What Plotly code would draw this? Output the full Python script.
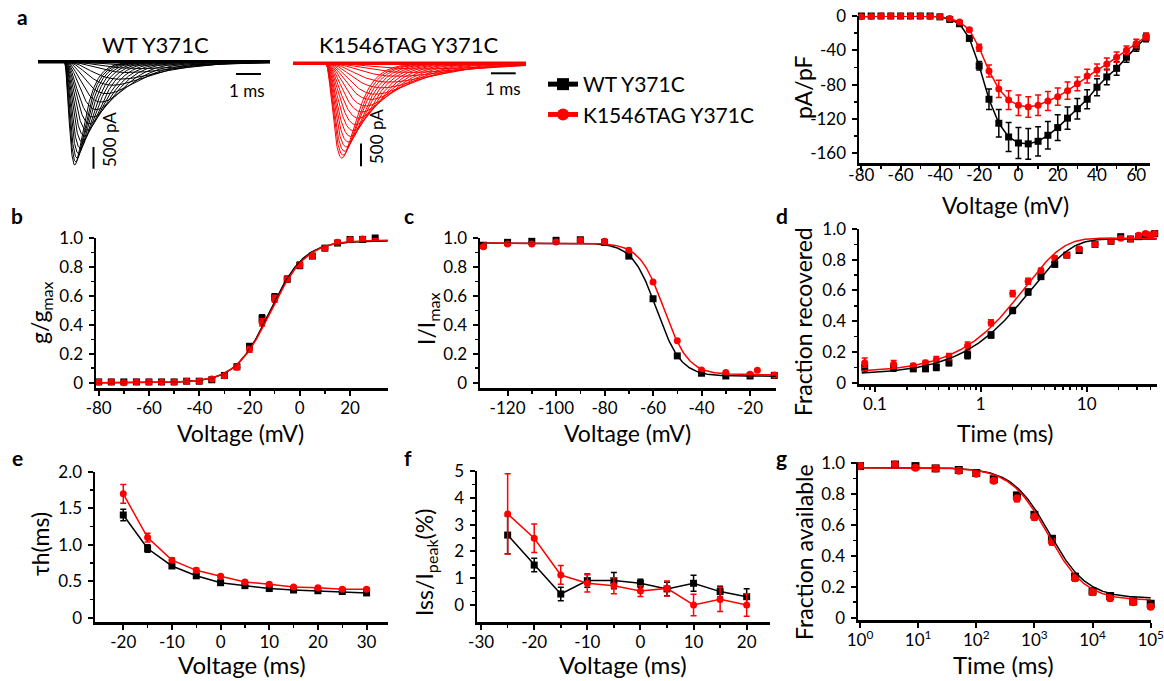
import numpy as np
import plotly.graph_objects as go

W, H = 1164, 681
FONT = "Lato"
BLACK = "#000000"
RED = "#ff0000"

# ---------------- DATA ----------------
# panel a: current traces (peak amplitude pA, time-to-peak ms, inactivation tau ms)
wt_trace_peak = [2380, 2310, 2222, 2116, 1993, 1853, 1717, 1578, 1426, 1275, 1105, 931, 736, 543, 404, 250, 160, 90]
wt_trace_tpeak = [0.43, 0.47, 0.52, 0.58, 0.65, 0.73, 0.82, 0.92, 1.03, 1.15, 1.30, 1.48, 1.70, 1.95, 2.25, 2.60, 3.00, 3.50]
wt_trace_tauh = [0.40, 0.42, 0.44, 0.46, 0.49, 0.52, 0.55, 0.59, 0.63, 0.67, 0.72, 0.78, 0.85, 0.93, 1.02, 1.12, 1.25, 1.40]
mut_trace_peak = [2090, 2021, 1939, 1843, 1734, 1611, 1483, 1352, 1210, 1073, 940, 797, 681, 542, 415, 289, 203, 125]
mut_trace_tpeak = [0.68, 0.73, 0.79, 0.86, 0.94, 1.03, 1.13, 1.24, 1.36, 1.50, 1.66, 1.84, 2.05, 2.30, 2.60, 2.95, 3.40, 3.90]
mut_trace_tauh = [0.55, 0.58, 0.61, 0.65, 0.69, 0.73, 0.78, 0.83, 0.89, 0.95, 1.02, 1.10, 1.19, 1.29, 1.40, 1.52, 1.66, 1.82]
scale_time_ms = 1.0
scale_current_pA = 500.0

# IV
iv_v = [-80, -75, -70, -65, -60, -55, -50, -45, -40, -35, -30, -25, -20, -15, -10, -5,
        0, 5, 10, 15, 20, 25, 30, 35, 40, 45, 50, 55, 60, 65]
iv_wt = [0, 0, 0, 0, 0, 0, 0, 0, -1, -4, -9, -26, -58, -97, -125, -141,
         -148, -149, -146, -139, -130, -119, -108, -97, -83, -71, -61, -48, -36, -25]
iv_wt_err = [0, 0, 0, 0, 0, 0, 0, 0.5, 0.5, 1, 2, 3, 5, 12, 16, 17,
             18, 18, 17, 16, 15, 13, 12, 11, 10, 9, 8, 6, 5, 5]
iv_mut = [-1, -0.5, 0, 0, 0, 0, 0, -0.5, -1, -3, -7, -16, -37, -64, -85, -98,
          -104, -106, -104, -99, -94, -87, -79, -70, -63, -56, -48, -40, -32, -24]
iv_mut_err = [0.5, 0.5, 0, 0, 0, 0, 0, 0.5, 0.5, 1, 1.5, 2, 4, 7, 10, 11,
              12, 12, 12, 11, 10, 10, 8, 8, 7, 7, 6, 5, 5, 4]

# b: activation
act_v = [-80, -75, -70, -65, -60, -55, -50, -45, -40, -35, -30, -25, -20, -15, -10, -5, 0, 5, 10, 15, 20, 25, 30, 35]
act_wt = [0.005, 0.005, 0.005, 0.005, 0.005, 0.005, 0.005, 0.01, 0.01, 0.02, 0.05, 0.11, 0.25, 0.445, 0.59, 0.715,
          0.81, 0.875, 0.93, 0.965, 0.99, 0.99, 1.0, 1.02]
act_wt_err = [0.005] * 10 + [0.01, 0.015, 0.02, 0.025, 0.025, 0.02, 0.02, 0.015, 0.01, 0.01, 0.01, 0.01, 0.01, 0.01]
act_mut = [0.005, 0.005, 0.0, 0.005, 0.005, 0.005, 0.005, 0.01, 0.01, 0.025, 0.048, 0.106, 0.23, 0.416, 0.58, 0.716,
           0.815, 0.877, 0.93, 0.97, 0.988, 0.993, 1.005, 1.023]
act_mut_err = [0.005] * 10 + [0.01, 0.015, 0.02, 0.025, 0.025, 0.02, 0.02, 0.015, 0.01, 0.01, 0.01, 0.01, 0.01, 0.01]
act_fit_wt = dict(top=0.98, vhalf=-12.0, k=6.8)
act_fit_mut = dict(top=0.985, vhalf=-11.5, k=7.0)

# c: steady-state inactivation
inact_v_wt = [-130, -120, -110, -100, -90, -80, -70, -60, -50, -40, -30, -20, -10]
inact_wt = [0.95, 0.97, 0.977, 0.984, 0.988, 0.97, 0.875, 0.58, 0.185, 0.065, 0.046, 0.046, 0.05]
inact_v_mut = [-130, -120, -110, -100, -90, -80, -70, -60, -50, -40, -30, -20, -17, -10]
inact_mut = [0.94, 0.958, 0.958, 0.972, 0.984, 0.977, 0.915, 0.695, 0.29, 0.088, 0.07, 0.058, 0.085, 0.053]
inact_fit_wt = dict(top=0.965, bottom=0.045, vhalf=-58.5, k=5.0)
inact_fit_mut = dict(top=0.965, bottom=0.055, vhalf=-55.5, k=5.0)

# d: recovery from inactivation
rec_t = [0.08, 0.15, 0.23, 0.3, 0.38, 0.5, 0.75, 1.25, 2.0, 2.8, 3.7, 5.0, 6.5, 8.5, 12, 17, 21, 26, 31, 36, 40, 44]
rec_wt = [0.10, 0.10, 0.09, 0.09, 0.10, 0.13, 0.18, 0.31, 0.47, 0.59, 0.69, 0.77, 0.83, 0.86, 0.90, 0.92, 0.95, 0.935, 0.95, 0.96, 0.96, 0.97]
rec_mut = [0.13, 0.12, 0.11, 0.13, 0.15, 0.17, 0.24, 0.39, 0.58, 0.66, 0.73, 0.81, 0.83, 0.87, 0.90, 0.92, 0.94, 0.935, 0.96, 0.97, 0.96, 0.97]
rec_err = [0.03, 0.025, 0.015, 0.015, 0.02, 0.02, 0.025, 0.02, 0.02, 0.02, 0.015, 0.015, 0.01, 0.015, 0.01, 0.01, 0.01, 0.01, 0.01, 0.01, 0.01, 0.01]
rec_fit_wt = dict(y0=0.05, top=0.935, tau=3.0, beta=1.15)
rec_fit_mut = dict(y0=0.065, top=0.94, tau=2.6, beta=1.2)

# e: tau h
tau_v = [-20, -15, -10, -5, 0, 5, 10, 15, 20, 25, 30]
tau_wt = [1.41, 0.95, 0.71, 0.575, 0.48, 0.44, 0.40, 0.38, 0.37, 0.36, 0.34]
tau_wt_err = [0.08, 0.05, 0.03, 0.02, 0.02, 0.02, 0.02, 0.02, 0.02, 0.02, 0.02]
tau_mut = [1.70, 1.10, 0.79, 0.65, 0.57, 0.49, 0.46, 0.42, 0.41, 0.39, 0.39]
tau_mut_err = [0.13, 0.06, 0.03, 0.03, 0.02, 0.02, 0.02, 0.02, 0.02, 0.02, 0.02]

# f: persistent current
iss_v = [-25, -20, -15, -10, -5, 0, 5, 10, 15, 20]
iss_wt = [2.61, 1.49, 0.41, 0.91, 0.91, 0.81, 0.60, 0.81, 0.50, 0.31]
iss_wt_err = [0.7, 0.25, 0.25, 0.25, 0.3, 0.15, 0.25, 0.3, 0.2, 0.3]
iss_mut = [3.40, 2.49, 1.12, 0.81, 0.72, 0.52, 0.62, 0.0, 0.21, 0.0]
iss_mut_err = [1.5, 0.53, 0.35, 0.32, 0.3, 0.2, 0.28, 0.4, 0.45, 0.42]

# g: development of slow inactivation
slow_t = [1, 4, 9, 20, 50, 100, 200, 500, 1000, 2000, 5000, 10000, 20000, 50000, 100000]
slow_wt = [0.98, 0.99, 0.98, 0.965, 0.955, 0.935, 0.895, 0.79, 0.665, 0.51, 0.265, 0.17, 0.14, 0.105, 0.09]
slow_mut = [0.98, 0.99, 0.97, 0.965, 0.95, 0.93, 0.885, 0.77, 0.65, 0.49, 0.255, 0.165, 0.125, 0.10, 0.07]
slow_err = [0.01, 0.01, 0.01, 0.01, 0.01, 0.01, 0.015, 0.02, 0.02, 0.02, 0.02, 0.02, 0.015, 0.015, 0.015]
slow_fit_wt = dict(top=0.97, bottom=0.125, t50=1800.0, n=1.35)
slow_fit_mut = dict(top=0.97, bottom=0.112, t50=1700.0, n=1.35)

# tick values / labels
iv_xticks = [-80, -60, -40, -20, 0, 20, 40, 60]
iv_yticks = [0, -40, -80, -120, -160]
act_xticks = [-80, -60, -40, -20, 0, 20]
frac_yticks = [0, 0.2, 0.4, 0.6, 0.8, 1.0]
frac_ylabels = ["0", "0.2", "0.4", "0.6", "0.8", "1.0"]
inact_xticks = [-120, -100, -80, -60, -40, -20]
rec_xticks = [0.1, 1, 10]
rec_xlabels = ["0.1", "1", "10"]
tau_xticks = [-20, -10, 0, 10, 20, 30]
tau_yticks = [0, 0.5, 1.0, 1.5, 2.0]
tau_ylabels = ["0", "0.5", "1.0", "1.5", "2.0"]
iss_xticks = [-30, -20, -10, 0, 10, 20]
iss_yticks = [0, 1, 2, 3, 4, 5]
slow_xticks = [1, 10, 100, 1000, 10000, 100000]
slow_xlabels = ["10<sup>0</sup>", "10<sup>1</sup>", "10<sup>2</sup>", "10<sup>3</sup>", "10<sup>4</sup>", "10<sup>5</sup>"]

# ---------------- helpers ----------------
def xdom(a, b):
    return [a / W, b / W]


def ydom(top, bot):
    return [1 - bot / H, 1 - top / H]


def lbl(vals):
    return [str(v) for v in vals]


def mids(vals):
    v = sorted(vals)
    return [(v[i] + v[i + 1]) / 2 for i in range(len(v) - 1)]


def log_minor(lo, hi):
    out = []
    e = int(np.floor(np.log10(lo)))
    while 10 ** e <= hi:
        for m in range(2, 10):
            val = m * 10 ** e
            if lo <= val <= hi:
                out.append(val)
        e += 1
    return out


def axis(dom, rng, anchor, tickvals, ticktext, minor=None, typ="linear", standoff=-2):
    d = dict(domain=dom, range=rng, anchor=anchor, type=typ, showline=True,
             linecolor=BLACK, linewidth=2.5, ticks="outside", ticklen=5, tickwidth=2,
             tickcolor=BLACK, showgrid=False, zeroline=False, tickmode="array",
             tickvals=tickvals, ticktext=ticktext,
             ticklabelstandoff=standoff, ticklabeloverflow="allow",
             tickfont=dict(family=FONT, size=17, color=BLACK), fixedrange=True)
    if minor is not None:
        d["minor"] = dict(tickmode="array", tickvals=minor, ticks="outside", ticklen=3,
                          tickwidth=1.5, tickcolor=BLACK, showgrid=False)
    return d


def yaxis(dom, rng, anchor, tickvals, ticktext, minor=None):
    return axis(dom, rng, anchor, tickvals, ticktext, minor, standoff=2)


def hidden(dom, rng, anchor):
    return dict(domain=dom, range=rng, anchor=anchor, visible=False, fixedrange=True)


fig = go.Figure()


def err(arr, color):
    return dict(type="data", array=arr, visible=True, thickness=1.5, width=3, color=color)


def pts(x, y, e, color, symbol, xa, ya, mode="markers", name=None, legend=False, size=7):
    fig.add_trace(go.Scatter(
        x=x, y=y, mode=mode, name=name, showlegend=legend, xaxis=xa, yaxis=ya,
        line=dict(color=color, width=1.5),
        marker=dict(color=color, symbol=symbol, size=size, line=dict(width=0)),
        error_y=err(e, color) if e is not None else None, cliponaxis=False))


def curve(x, y, color, xa, ya, width=1.5):
    fig.add_trace(go.Scatter(x=x, y=y, mode="lines", showlegend=False, xaxis=xa, yaxis=ya,
                             line=dict(color=color, width=width), cliponaxis=False,
                             hoverinfo="skip"))


# ---------------- panel a traces ----------------
def solve_tau_m(tp, th):
    lo, hi = 1e-4, 100.0
    for _ in range(90):
        mid = 0.5 * (lo + hi)
        if mid * np.log(1 + 3 * th / mid) < tp:
            lo = mid
        else:
            hi = mid
    return 0.5 * (lo + hi)


def draw_family(peaks, tps, taus, color, xa, ya, trng):
    t = np.linspace(trng[0], trng[1], 1200)
    for A, tp, th in zip(peaks, tps, taus):
        tm = solve_tau_m(tp, th)
        tt = np.clip(t, 0, None)
        s = (1 - np.exp(-tt / tm)) ** 3 * np.exp(-tt / th)
        s = s / s.max()
        curve(t, -A * s, color, xa, ya, width=1)
    curve(t, np.zeros_like(t), color, xa, ya, width=3.5)


# trace panels: layout numbers (pixels)
wt_px_per_ms, wt_onset_px = 25.0, 64.0
wt_base_px, wt_px_per_pA = 61.7, 21.7 / 500
wt_x0, wt_x1, tr_top, tr_bot = 38.0, 270.0, 40.0, 185.0
wt_trng = [(wt_x0 - wt_onset_px) / wt_px_per_ms, (wt_x1 - wt_onset_px) / wt_px_per_ms]
wt_yrng = [-(tr_bot - wt_base_px) / wt_px_per_pA, (wt_base_px - tr_top) / wt_px_per_pA]

mu_px_per_ms, mu_onset_px = 24.7, 325.0
mu_base_px, mu_px_per_pA = 63.3, 22.7 / 500
mu_x0, mu_x1 = 293.0, 526.0
mu_trng = [(mu_x0 - mu_onset_px) / mu_px_per_ms, (mu_x1 - mu_onset_px) / mu_px_per_ms]
mu_yrng = [-(tr_bot - mu_base_px) / mu_px_per_pA, (mu_base_px - tr_top) / mu_px_per_pA]

draw_family(wt_trace_peak, wt_trace_tpeak, wt_trace_tauh, BLACK, "x8", "y8", wt_trng)
draw_family(mut_trace_peak, mut_trace_tpeak, mut_trace_tauh, RED, "x9", "y9", mu_trng)


def ms_of(px, onset, ppm):
    return (px - onset) / ppm


def pa_of(py, base, ppp):
    return -(py - base) / ppp


# scale bars (black in both panels)
t0 = ms_of(236, wt_onset_px, wt_px_per_ms)
curve([t0, t0 + scale_time_ms], [pa_of(74, wt_base_px, wt_px_per_pA)] * 2, BLACK, "x8", "y8", width=2)
i0 = pa_of(147, wt_base_px, wt_px_per_pA)
curve([ms_of(93.5, wt_onset_px, wt_px_per_ms)] * 2, [i0, i0 - scale_current_pA], BLACK, "x8", "y8", width=2)
t0 = ms_of(491, mu_onset_px, mu_px_per_ms)
curve([t0, t0 + scale_time_ms], [pa_of(73.3, mu_base_px, mu_px_per_pA)] * 2, BLACK, "x9", "y9", width=2)
i0 = pa_of(143.5, mu_base_px, mu_px_per_pA)
curve([ms_of(361, mu_onset_px, mu_px_per_ms)] * 2, [i0, i0 - scale_current_pA], BLACK, "x9", "y9", width=2)

# ---------------- IV ----------------
pts(iv_v, iv_wt, iv_wt_err, BLACK, "square", "x", "y", mode="lines+markers", name="WT Y371C", legend=True, size=7)
pts(iv_v, iv_mut, iv_mut_err, RED, "circle", "x", "y", mode="lines+markers", name="K1546TAG Y371C", legend=True, size=7)

# ---------------- b ----------------
vv = np.linspace(act_v[0], act_v[-1], 300)
pts(act_v, act_wt, act_wt_err, BLACK, "square", "x2", "y2", size=7)
pts(act_v, act_mut, act_mut_err, RED, "circle", "x2", "y2", size=7)
for p, c in ((act_fit_wt, BLACK), (act_fit_mut, RED)):
    curve(vv, p["top"] / (1 + np.exp((p["vhalf"] - vv) / p["k"])), c, "x2", "y2")

# ---------------- c ----------------
vv = np.linspace(inact_v_wt[0], -9.3, 300)
pts(inact_v_wt, inact_wt, None, BLACK, "square", "x3", "y3", size=7)
pts(inact_v_mut, inact_mut, None, RED, "circle", "x3", "y3", size=7)
for p, c in ((inact_fit_wt, BLACK), (inact_fit_mut, RED)):
    curve(vv, p["bottom"] + (p["top"] - p["bottom"]) / (1 + np.exp((vv - p["vhalf"]) / p["k"])), c, "x3", "y3")

# ---------------- d ----------------
tt = np.logspace(np.log10(0.075), np.log10(46), 300)
pts(rec_t, rec_wt, rec_err, BLACK, "square", "x4", "y4", size=7)
pts(rec_t, rec_mut, rec_err, RED, "circle", "x4", "y4", size=7)
for p, c in ((rec_fit_wt, BLACK), (rec_fit_mut, RED)):
    curve(tt, p["y0"] + (p["top"] - p["y0"]) * (1 - np.exp(-(tt / p["tau"]) ** p["beta"])), c, "x4", "y4")

# ---------------- e ----------------
pts(tau_v, tau_wt, tau_wt_err, BLACK, "square", "x5", "y5", mode="lines+markers", size=7)
pts(tau_v, tau_mut, tau_mut_err, RED, "circle", "x5", "y5", mode="lines+markers", size=7)

# ---------------- f ----------------
pts(iss_v, iss_wt, iss_wt_err, BLACK, "square", "x6", "y6", mode="lines+markers", size=7)
pts(iss_v, iss_mut, iss_mut_err, RED, "circle", "x6", "y6", mode="lines+markers", size=7)

# ---------------- g ----------------
tt = np.logspace(0, 5, 300)
pts(slow_t, slow_wt, slow_err, BLACK, "square", "x7", "y7", size=8)
pts(slow_t, slow_mut, slow_err, RED, "circle", "x7", "y7", size=8)
for p, c in ((slow_fit_wt, BLACK), (slow_fit_mut, RED)):
    curve(tt, p["bottom"] + (p["top"] - p["bottom"]) / (1 + (tt / p["t50"]) ** p["n"]), c, "x7", "y7")

# ---------------- layout ----------------
layout = dict(
    width=W, height=H, margin=dict(l=0, r=0, t=0, b=0),
    paper_bgcolor="white", plot_bgcolor="white", template="none",
    font=dict(family=FONT, color=BLACK),
    showlegend=True,
    legend=dict(x=543 / W, y=1 - 64 / H, xanchor="left", yanchor="top",
                font=dict(family=FONT, size=21, color=BLACK), bgcolor="rgba(0,0,0,0)",
                tracegroupgap=0, itemsizing="constant"),
    xaxis=axis(xdom(859, 1150), [-81.2, 67], "y", iv_xticks, lbl(iv_xticks), mids(iv_xticks), standoff=-10),
    yaxis=yaxis(ydom(16, 163), [-171.3, 0], "x", iv_yticks, lbl(iv_yticks), mids(iv_yticks)),
    xaxis2=axis(xdom(96, 388), [-81.07, 35.1], "y2", act_xticks, lbl(act_xticks), mids(act_xticks)),
    yaxis2=yaxis(ydom(238, 388), [-0.037, 1.0], "x2", frac_yticks, frac_ylabels, mids(frac_yticks)),
    xaxis3=axis(xdom(480, 776), [-131.36, -9.3], "y3", inact_xticks, lbl(inact_xticks), mids(inact_xticks)),
    yaxis3=yaxis(ydom(238, 388), [-0.037, 1.0], "x3", frac_yticks, frac_ylabels, mids(frac_yticks)),
    xaxis4=axis(xdom(859, 1157), [-1.151, 1.665], "y4", rec_xticks, rec_xlabels, log_minor(0.07, 46), typ="log"),
    yaxis4=yaxis(ydom(229, 384), [-0.0085, 1.0], "x4", frac_yticks, frac_ylabels, mids(frac_yticks)),
    xaxis5=axis(xdom(95, 388), [-25.81, 34.4], "y5", tau_xticks, lbl(tau_xticks), mids(tau_xticks)),
    yaxis5=yaxis(ydom(472, 622), [-0.059, 2.0], "x5", tau_yticks, tau_ylabels, mids(tau_yticks)),
    xaxis6=axis(xdom(477, 770), [-30.77, 24.39], "y6", iss_xticks, lbl(iss_xticks), mids(iss_xticks)),
    yaxis6=yaxis(ydom(471, 622), [-0.634, 5.0], "x6", iss_yticks, lbl(iss_yticks), mids(iss_yticks)),
    xaxis7=axis(xdom(858, 1151), [-0.034, 5.005], "y7", slow_xticks, slow_xlabels, None, typ="log"),
    yaxis7=yaxis(ydom(463, 620), [-0.015, 1.0], "x7", frac_yticks, frac_ylabels, mids(frac_yticks)),
    xaxis8=hidden(xdom(wt_x0, wt_x1), wt_trng, "y8"),
    yaxis8=hidden(ydom(tr_top, tr_bot), wt_yrng, "x8"),
    xaxis9=hidden(xdom(mu_x0, mu_x1), mu_trng, "y9"),
    yaxis9=hidden(ydom(tr_top, tr_bot), mu_yrng, "x9"),
)
fig.update_layout(**layout)


def note(text, x, y, size, angle=0, bold=False):
    fig.add_annotation(text=("<b>%s</b>" % text) if bold else text, x=x / W, y=1 - y / H,
                       xref="paper", yref="paper", xanchor="center", yanchor="middle",
                       showarrow=False, textangle=angle,
                       font=dict(family=FONT, size=size, color=BLACK))


# panel letters
for letter, x, y in (("a", 22, 17), ("b", 17, 215), ("c", 409, 215), ("d", 782, 215),
                     ("e", 17, 457), ("f", 408, 457), ("g", 782, 457)):
    note(letter, x, y, 21, bold=True)

# trace titles and scale labels
note("WT Y371C", 155, 45, 22)
note("K1546TAG Y371C", 409, 45, 22)
note("1 ms", 247, 90, 17)
note("1 ms", 503, 88, 17)
note("500 pA", 109, 140, 17, angle=-90)
note("500 pA", 376, 137, 17, angle=-90)

# axis titles
note("pA/pF", 803, 88, 23, angle=-90)
note("Voltage (mV)", 1005, 205, 23)
note("g/g<sub>max</sub>", 40, 313, 23, angle=-90)
note("Voltage (mV)", 240, 433, 23)
note("I/I<sub>max</sub>", 427, 318, 23, angle=-90)
note("Voltage (mV)", 627, 433, 23)
note("Fraction recovered", 803, 322, 23, angle=-90)
note("Time (ms)", 1005, 433, 23)
note("τh(ms)", 40, 544, 23, angle=-90)
note("Voltage (ms)", 242, 664, 24)
note("Iss/I<sub>peak</sub>(%)", 425, 563, 23, angle=-90)
note("Voltage (ms)", 623, 664, 24)
note("Fraction available", 804, 552, 23, angle=-90)
note("Time (ms)", 1003, 664, 24)

fig.write_html("out.html",
               config={"displayModeBar": False, "staticPlot": True},
               post_script="document.body.style.margin='0px';document.body.style.padding='0px';"
                           "document.body.style.overflow='hidden';")
